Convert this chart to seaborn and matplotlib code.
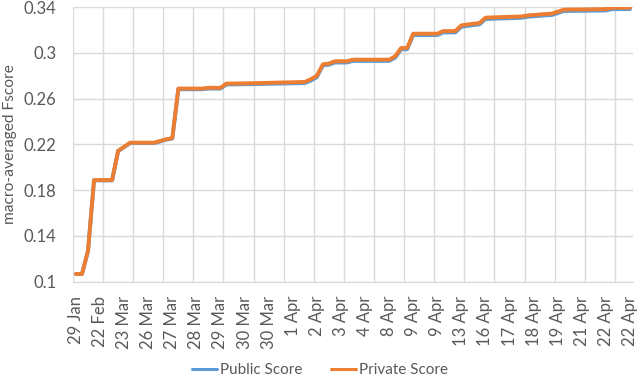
import numpy as np
import pandas as pd
import seaborn as sns
import matplotlib.pyplot as plt

############# Chart data ######################
###############################################
# one submission per point, only every 4th date is labelled on the axis
tick_dates = ['29 Jan', '22 Feb', '23 Mar', '26 Mar', '27 Mar', '28 Mar', '29 Mar', '30 Mar',
              '30 Mar', '1 Apr', '2 Apr', '3 Apr', '4 Apr', '8 Apr', '9 Apr', '9 Apr',
              '13 Apr', '16 Apr', '17 Apr', '18 Apr', '19 Apr', '21 Apr', '22 Apr', '22 Apr']

private_score = [0.1067, 0.1067, 0.1270, 0.1888, 0.1888, 0.1888, 0.1888, 0.2144, 0.2180, 0.2215,
                 0.2215, 0.2215, 0.2215, 0.2215, 0.2230, 0.2245, 0.2255, 0.2688, 0.2688, 0.2688,
                 0.2688, 0.2688, 0.2695, 0.2695, 0.2695, 0.2732, 0.2732, 0.2733, 0.2734, 0.2735,
                 0.2736, 0.2737, 0.2738, 0.2740, 0.2741, 0.2742, 0.2743, 0.2745, 0.2746, 0.2770,
                 0.2800, 0.2900, 0.2907, 0.2927, 0.2927, 0.2927, 0.2941, 0.2941, 0.2941, 0.2941,
                 0.2941, 0.2941, 0.2941, 0.2970, 0.3043, 0.3043, 0.3168, 0.3168, 0.3168, 0.3168,
                 0.3168, 0.3191, 0.3191, 0.3191, 0.3241, 0.3248, 0.3255, 0.3261, 0.3308, 0.3310,
                 0.3312, 0.3314, 0.3315, 0.3317, 0.3319, 0.3328, 0.3332, 0.3336, 0.3340, 0.3343,
                 0.3360, 0.3378, 0.3379, 0.3380, 0.3380, 0.3381, 0.3382, 0.3382, 0.3383, 0.3395,
                 0.3395, 0.3395, 0.3395]

public_score = [0.1067, 0.1067, 0.1268, 0.1885, 0.1885, 0.1885, 0.1885, 0.2140, 0.2176, 0.2212,
                0.2212, 0.2212, 0.2212, 0.2212, 0.2226, 0.2241, 0.2251, 0.2682, 0.2682, 0.2682,
                0.2682, 0.2682, 0.2688, 0.2688, 0.2688, 0.2724, 0.2724, 0.2725, 0.2726, 0.2727,
                0.2728, 0.2729, 0.2730, 0.2731, 0.2732, 0.2733, 0.2734, 0.2735, 0.2736, 0.2758,
                0.2788, 0.2890, 0.2897, 0.2916, 0.2916, 0.2916, 0.2930, 0.2930, 0.2930, 0.2930,
                0.2930, 0.2930, 0.2930, 0.2958, 0.3032, 0.3032, 0.3156, 0.3156, 0.3156, 0.3156,
                0.3156, 0.3179, 0.3179, 0.3179, 0.3229, 0.3236, 0.3243, 0.3249, 0.3296, 0.3298,
                0.3300, 0.3302, 0.3303, 0.3305, 0.3307, 0.3316, 0.3320, 0.3324, 0.3328, 0.3331,
                0.3348, 0.3366, 0.3367, 0.3368, 0.3368, 0.3369, 0.3370, 0.3370, 0.3371, 0.3383,
                0.3383, 0.3383, 0.3383]

series_names = ['Public Score', 'Private Score']
series_colors = ['#5B9BD5', '#ED7D31']

############# Build long table ######################
#####################################################
n = len(private_score)
df = pd.concat([
    pd.DataFrame({'submission': np.arange(n), 'score': public_score, 'series': series_names[0]}),
    pd.DataFrame({'submission': np.arange(n), 'score': private_score, 'series': series_names[1]}),
], ignore_index=True)

############# Plot ######################
#########################################
sns.set_style('white')
plt.rcParams['font.family'] = ['Lato', 'DejaVu Sans']
text_grey = '#595959'
grid_grey = '#D9D9D9'

fig = plt.figure(figsize=(6.4, 3.77), dpi=100)
ax = fig.add_axes([0.114, 0.253, 0.875, 0.728])

sns.lineplot(data=df, x='submission', y='score', hue='series', hue_order=series_names,
             palette=series_colors, linewidth=2.8, ax=ax)

# category axis: labels every 4 points, gridlines every 5 points
ax.set_xlim(-0.5, n - 0.5)
ax.set_xticks(np.arange(0, n, 4))
ax.set_xticklabels(tick_dates, rotation=90)
ax.set_xticks(np.arange(-0.5, n - 1, 5), minor=True)
ax.grid(which='minor', axis='x', color=grid_grey, linewidth=1)
ax.tick_params(axis='x', which='both', length=0, colors=text_grey, labelsize=12, pad=10)

ax.set_ylim(0.1, 0.34)
y_ticks = np.arange(0.10, 0.341, 0.04)
ax.set_yticks(y_ticks)
ax.set_yticklabels([f'{t:.2f}'.rstrip('0') for t in y_ticks])
ax.grid(which='major', axis='y', color=grid_grey, linewidth=1)
ax.tick_params(axis='y', length=0, colors=text_grey, labelsize=12, pad=12)

for side in ['top', 'right', 'left']:
    ax.spines[side].set_visible(False)
ax.spines['bottom'].set_color(grid_grey)

ax.set_xlabel('')
ax.set_ylabel('macro-averaged Fscore', color=text_grey, fontsize=11.2, labelpad=5)

# legend under the axis
handles, labels = ax.get_legend_handles_labels()
for h in handles:
    h.set_linewidth(2.2)
ax.legend(handles, labels, loc='center', bbox_to_anchor=(0.5, 0.018),
          bbox_transform=fig.transFigure, ncol=2, frameon=False, fontsize=11,
          handlelength=1.6, handletextpad=0.2, columnspacing=1.9, labelcolor=text_grey,
          borderpad=0)

plt.savefig('out.png', dpi=100)
